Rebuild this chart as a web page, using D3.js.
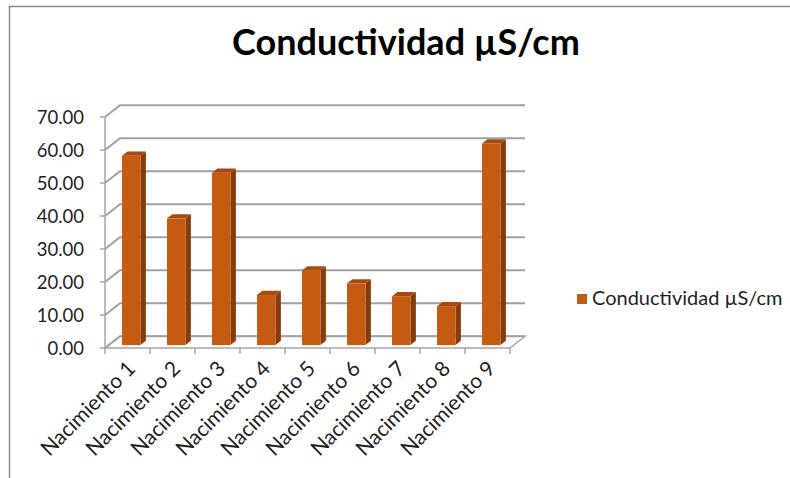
<!DOCTYPE html>
<html>
<head>
<meta charset="utf-8">
<script src="https://cdn.jsdelivr.net/npm/d3@7"></script>
<style>
  html, body { margin: 0; padding: 0; background: #fff; }
  svg { display: block; }
</style>
</head>
<body>
<div id="chart"></div>
<script>
const title = 'Conductividad µS/cm';
const seriesName = 'Conductividad µS/cm';
const categories = ['Nacimiento 1', 'Nacimiento 2', 'Nacimiento 3', 'Nacimiento 4', 'Nacimiento 5',
  'Nacimiento 6', 'Nacimiento 7', 'Nacimiento 8', 'Nacimiento 9'];
const conductividad = [57.4, 38.4, 52.2, 15.2, 22.6, 18.7, 14.8, 11.8, 61.1];
const yTicks = [0, 10, 20, 30, 40, 50, 60, 70];

const W = 790;
const H = 478;
// 3d depth offsets (back wall relative to front plane)
const DX = 15;
const DY = -11.7;

const svg = d3.select('#chart').append('svg')
  .attr('width', W)
  .attr('height', H);

// outer border of the chart area
svg.append('path')
  .attr('d', `M9.5,${H + 2}V6.5H${W + 2}`)
  .attr('fill', 'none')
  .attr('stroke', '#8c8c8c')
  .attr('stroke-width', 1.5);

// Scales
const x = d3.scaleBand()
  .domain(categories)
  .range([105, 510]);

const y = d3.scaleLinear()
  .domain([0, 70])
  .range([348, 117]);

const font = 'Lato, "Open Sans", sans-serif';

// Title
svg.append('text')
  .attr('x', 406)
  .attr('y', 55)
  .attr('text-anchor', 'middle')
  .attr('font-family', font)
  .attr('font-weight', 'bold')
  .attr('font-size', 36)
  .attr('fill', '#000')
  .text(title);

const grid = svg.append('g').attr('class', 'grid');

// floor
const [x0, x1] = x.range();
grid.append('path')
  .attr('d', `M${x0},${y(0)}L${x1},${y(0)}L${x1 + DX},${y(0) + DY}L${x0 + DX},${y(0) + DY}Z`)
  .attr('fill', '#fff')
  .attr('stroke', '#a6a6a6')
  .attr('stroke-width', 1.5);

// gridlines on back wall + side wall diagonals
grid.selectAll('.gl')
  .data(yTicks)
  .join('path')
  .attr('class', 'gl')
  .attr('d', d => `M${x0},${y(d)}L${x0 + DX},${y(d) + DY}H${x1 + DX}`)
  .attr('fill', 'none')
  .attr('stroke', '#a0a0a0')
  .attr('stroke-width', 2);

// front y axis line and ticks
grid.append('line')
  .attr('x1', x0).attr('x2', x0)
  .attr('y1', y(0)).attr('y2', y(70))
  .attr('stroke', '#a6a6a6')
  .attr('stroke-width', 1.5);

grid.selectAll('.ytick')
  .data(yTicks)
  .join('line')
  .attr('class', 'ytick')
  .attr('x1', x0 - 5).attr('x2', x0)
  .attr('y1', d => y(d)).attr('y2', d => y(d))
  .attr('stroke', '#a6a6a6')
  .attr('stroke-width', 1.5);

// x ticks below the floor edge
grid.selectAll('.xtick')
  .data(categories.map(c => x(c)).concat([x1]))
  .join('line')
  .attr('class', 'xtick')
  .attr('x1', d => d).attr('x2', d => d)
  .attr('y1', y(0)).attr('y2', y(0) + 6)
  .attr('stroke', '#a6a6a6')
  .attr('stroke-width', 1.5);

// y labels
svg.append('g')
  .selectAll('text')
  .data(yTicks)
  .join('text')
  .attr('x', 84)
  .attr('y', d => y(d))
  .attr('dy', '0.36em')
  .attr('text-anchor', 'end')
  .attr('font-family', font)
  .attr('font-size', 18.5)
  .attr('fill', '#1f1f1f')
  .text(d => d.toFixed(2));

// x labels
svg.append('g')
  .selectAll('text')
  .data(categories)
  .join('text')
  .attr('transform', d => `translate(${x(d) + x.bandwidth() / 2 + 9},${y(0) + 22}) rotate(-45)`)
  .attr('text-anchor', 'end')
  .attr('font-family', font)
  .attr('font-size', 21)
  .attr('fill', '#1f1f1f')
  .text(d => d);

// bars (pseudo 3d)
const f1 = 0.25;  // front face depth
const f2 = 0.61;  // back face depth
const bw = x.bandwidth() * 0.41;

const bars = svg.append('g')
  .selectAll('g')
  .data(categories.map((c, i) => ({ c, v: conductividad[i] })))
  .join('g');

bars.each(function (d) {
  const g = d3.select(this);
  const left = x(d.c) + (x.bandwidth() - bw) / 2 + f1 * DX;
  const right = left + bw;
  const top = y(d.v) + f1 * DY;
  const base = y(0) + f1 * DY;
  const ddx = (f2 - f1) * DX;
  const ddy = (f2 - f1) * DY;

  // side face
  g.append('path')
    .attr('d', `M${right},${top}L${right + ddx},${top + ddy}L${right + ddx},${base + ddy}L${right},${base}Z`)
    .attr('fill', '#843c0c');
  // top face
  g.append('path')
    .attr('d', `M${left},${top}L${left + ddx},${top + ddy}L${right + ddx},${top + ddy}L${right},${top}Z`)
    .attr('fill', '#a64a0e');
  // front face
  g.append('rect')
    .attr('x', left)
    .attr('y', top)
    .attr('width', bw)
    .attr('height', base - top)
    .attr('fill', '#c55a11');
});

// legend
const legend = svg.append('g').attr('transform', 'translate(577,294)');
legend.append('rect')
  .attr('width', 10)
  .attr('height', 10)
  .attr('fill', '#c55a11');
legend.append('text')
  .attr('x', 15)
  .attr('y', 11)
  .attr('font-family', font)
  .attr('font-size', 20)
  .attr('fill', '#1f1f1f')
  .text(seriesName);
</script>
</body>
</html>
